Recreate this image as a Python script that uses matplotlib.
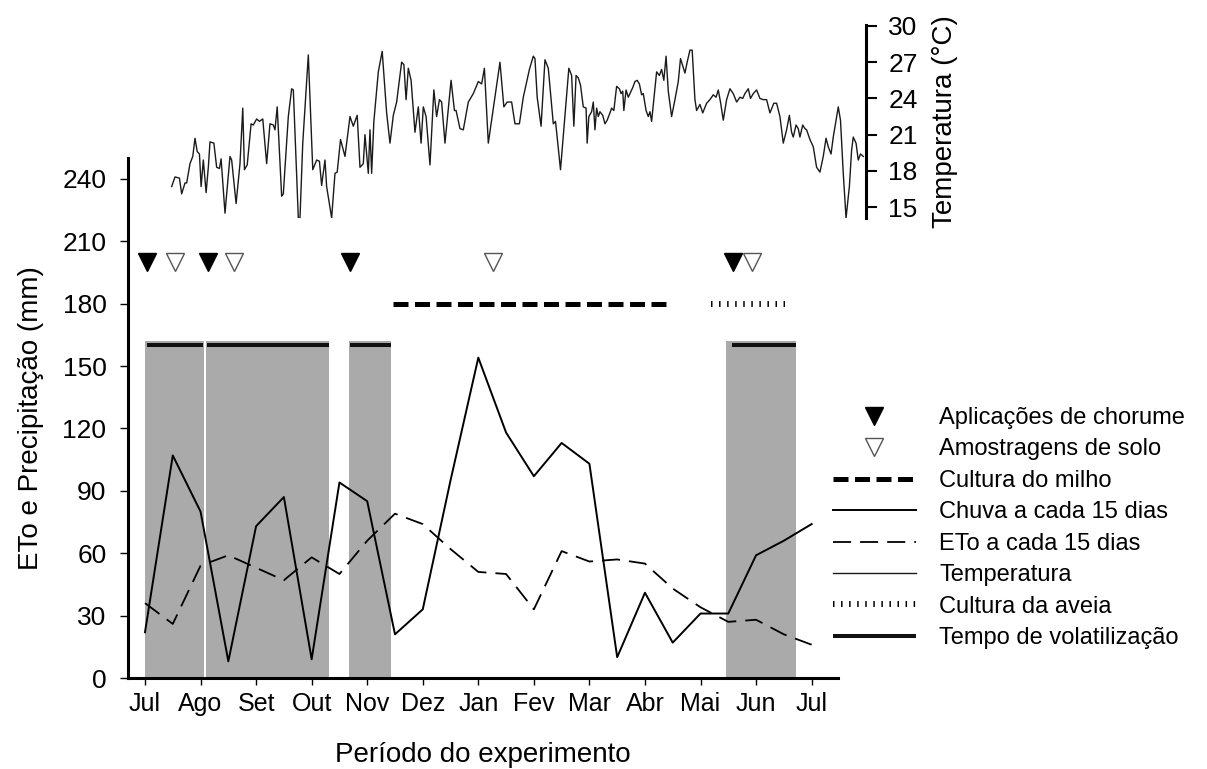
import numpy as np
import matplotlib.pyplot as plt

plt.rcParams['font.family'] = ['Liberation Sans', 'DejaVu Sans']
plt.rcParams['font.size'] = 17

# eixo x em meses desde julho (0 = Jul, 12 = Jul do ano seguinte)
meses = ['Jul', 'Ago', 'Set', 'Out', 'Nov', 'Dez', 'Jan', 'Fev', 'Mar', 'Abr', 'Mai', 'Jun', 'Jul']

# totais quinzenais (mm)
quinzenas = [0.0, 0.5, 1.0, 1.5, 2.0, 2.5, 3.0, 3.5, 4.0, 4.5, 5.0, 5.5, 6.0,
             6.5, 7.0, 7.5, 8.0, 8.5, 9.0, 9.5, 10.0, 10.5, 11.0, 11.5, 12.0]
chuva = [22, 107, 80, 8, 73, 87, 9, 94, 85, 21, 33, 95, 154,
         118, 97, 113, 103, 10, 41, 17, 31, 31, 59, 66, 74]
eto = [36, 26, 54, 59, 53, 47, 58, 50, 66, 79, 74, 62, 51,
       50, 33, 61, 56, 57, 55, 43, 34, 27, 28, 21, 16]

# temperatura media diaria (C)
temp_mes = [0.48, 0.54, 0.62, 0.66, 0.72, 0.75, 0.81, 0.86, 0.90, 0.94,
            0.98, 1.01, 1.05, 1.10, 1.14, 1.17, 1.24, 1.29, 1.34, 1.37,
            1.44, 1.53, 1.56, 1.64, 1.71, 1.76, 1.79, 1.84, 1.91, 1.95,
            2.01, 2.06, 2.12, 2.19, 2.25, 2.31, 2.34, 2.38, 2.46, 2.49,
            2.58, 2.64, 2.67, 2.76, 2.79, 2.84, 2.94, 3.02, 3.09, 3.14,
            3.18, 3.24, 3.27, 3.36, 3.42, 3.46, 3.52, 3.60, 3.69, 3.75,
            3.82, 3.87, 3.93, 3.96, 4.02, 4.05, 4.08, 4.12, 4.20, 4.27,
            4.35, 4.41, 4.47, 4.53, 4.62, 4.66, 4.70, 4.74, 4.79, 4.86,
            4.92, 4.97, 5.01, 5.06, 5.13, 5.20, 5.25, 5.30, 5.34, 5.40,
            5.51, 5.57, 5.60, 5.67, 5.73, 5.82, 5.91, 6.00, 6.06, 6.11,
            6.18, 6.39, 6.46, 6.52, 6.60, 6.66, 6.74, 6.81, 6.92, 6.99,
            7.02, 7.06, 7.13, 7.20, 7.26, 7.35, 7.39, 7.48, 7.63, 7.68,
            7.72, 7.76, 7.80, 7.84, 7.89, 7.94, 7.96, 7.99, 8.04, 8.07,
            8.10, 8.13, 8.16, 8.19, 8.24, 8.28, 8.32, 8.37, 8.40, 8.44,
            8.49, 8.54, 8.57, 8.60, 8.62, 8.66, 8.70, 8.73, 8.78, 8.82,
            8.86, 8.90, 8.94, 8.97, 9.02, 9.06, 9.09, 9.12, 9.16, 9.21,
            9.26, 9.30, 9.34, 9.38, 9.42, 9.48, 9.54, 9.60, 9.64, 9.72,
            9.76, 9.81, 9.85, 9.90, 9.93, 9.99, 10.04, 10.11, 10.17, 10.23,
            10.28, 10.32, 10.36, 10.41, 10.47, 10.53, 10.59, 10.65, 10.71, 10.76,
            10.80, 10.86, 10.90, 10.95, 11.01, 11.07, 11.13, 11.19, 11.25, 11.32,
            11.37, 11.43, 11.49, 11.55, 11.60, 11.64, 11.67, 11.72, 11.76, 11.79,
            11.84, 11.88, 11.91, 11.97, 12.03, 12.09, 12.15, 12.21, 12.26, 12.30,
            12.35, 12.39, 12.48, 12.52, 12.57, 12.62, 12.68, 12.72, 12.75, 12.80,
            12.84, 12.88, 12.93]
temp_c = [16.7, 17.5, 17.4, 16.1, 17.0, 17.0, 18.6, 19.2, 20.7, 19.6,
          19.4, 16.7, 18.9, 16.2, 18.3, 20.4, 20.3, 18.3, 18.2, 19.0,
          14.5, 19.2, 18.9, 15.3, 18.6, 23.2, 18.1, 18.5, 21.9, 21.8,
          22.3, 22.1, 22.3, 18.6, 21.9, 21.8, 21.4, 23.3, 15.9, 16.1,
          22.5, 24.8, 24.7, 14.1, 14.1, 20.3, 27.6, 18.1, 18.9, 18.8,
          16.8, 18.9, 16.7, 14.1, 17.8, 17.9, 20.6, 19.2, 22.5, 21.7,
          22.6, 18.3, 18.6, 21.0, 17.8, 21.4, 17.8, 22.1, 26.2, 27.9,
          22.8, 20.3, 22.6, 23.7, 27.0, 26.8, 23.9, 26.5, 25.5, 21.2,
          23.3, 20.3, 23.3, 22.5, 18.5, 24.7, 22.5, 23.9, 23.7, 20.3,
          25.5, 23.0, 23.0, 21.5, 21.4, 23.7, 24.4, 25.4, 25.2, 26.5,
          20.3, 27.0, 23.3, 23.7, 23.7, 21.9, 21.9, 24.1, 26.4, 27.5,
          27.3, 24.1, 21.7, 27.2, 26.5, 21.9, 22.1, 18.1, 26.5, 25.9,
          21.7, 25.9, 25.7, 25.1, 23.3, 23.2, 20.3, 22.5, 22.9, 23.7,
          21.4, 23.2, 22.5, 22.9, 22.6, 21.9, 22.2, 22.8, 23.2, 23.0,
          25.0, 24.8, 24.4, 24.6, 23.0, 24.7, 24.1, 24.4, 24.9, 25.4,
          25.5, 25.2, 24.3, 24.4, 23.0, 22.5, 22.9, 22.1, 23.9, 26.2,
          25.9, 26.4, 25.5, 27.5, 24.6, 22.5, 23.9, 25.4, 27.3, 26.1,
          27.0, 28.0, 28.0, 23.9, 23.0, 23.5, 22.8, 23.6, 23.9, 24.3,
          24.1, 24.7, 23.7, 22.2, 23.9, 24.8, 24.4, 23.7, 24.1, 24.0,
          24.4, 24.8, 24.0, 24.4, 24.7, 24.0, 23.9, 23.9, 22.8, 23.6,
          23.6, 22.5, 20.3, 21.4, 22.6, 21.2, 20.8, 21.8, 21.5, 20.8,
          21.8, 21.5, 21.4, 20.6, 20.0, 18.3, 17.9, 19.2, 20.7, 20.0,
          19.4, 20.8, 23.3, 22.2, 17.8, 14.1, 16.7, 19.7, 20.8, 20.3,
          18.9, 19.4, 19.2]

# eventos do experimento
aplicacoes = [0.04, 1.13, 3.69, 10.58]
amostragens = [0.54, 1.60, 6.26, 10.93]
nivel_eventos = 200
milho_inicio, milho_fim = 4.46, 9.41
aveia_inicio, aveia_fim = 10.19, 11.52
nivel_culturas = 180
volat_inicio = [0.04, 1.12, 3.69, 10.56]
volat_fim = [1.04, 3.31, 4.43, 11.72]
nivel_volat = 160
sombra_inicio = [0.0, 1.10, 3.67, 10.45]
sombra_fim = [1.06, 3.31, 4.43, 11.72]
sombra_altura = 162

W, H = 1207, 769
fig = plt.figure(figsize=(W / 100, H / 100), dpi=100)

# painel principal
x0, x1 = 128, 838
y0, y1 = 678, 158
ax = fig.add_axes([x0 / W, 1 - y0 / H, (x1 - x0) / W, (y0 - y1) / H])
ax.set_xlim(-0.306, 12.475)
ax.set_ylim(0, 250)

larguras = np.array(sombra_fim) - np.array(sombra_inicio)
ax.bar(sombra_inicio, sombra_altura, width=larguras, align='edge',
       color='#aaaaaa', edgecolor='none', zorder=1)
h_volat = ax.hlines([nivel_volat] * len(volat_inicio), volat_inicio, volat_fim,
                    color='#111111', lw=2.9, zorder=3,
                    label='Tempo de volatilização')

h_chuva, = ax.plot(quinzenas, chuva, color='black', lw=1.4, zorder=4,
                   label='Chuva a cada 15 dias')
h_eto, = ax.plot(quinzenas, eto, color='black', lw=1.3, dashes=(10, 5),
                 zorder=4, label='ETo a cada 15 dias')

h_milho, = ax.plot([milho_inicio, milho_fim], [nivel_culturas] * 2,
                   color='black', lw=3.6, dashes=(3, 1.3),
                   label='Cultura do milho')
h_aveia, = ax.plot([aveia_inicio, aveia_fim], [nivel_culturas] * 2,
                   color='black', lw=4.3, dashes=(0.25, 1.1),
                   label='Cultura da aveia')

h_apl, = ax.plot(aplicacoes, [nivel_eventos] * len(aplicacoes), 'v',
                 color='black', ms=13, zorder=5,
                 label='Aplicações de chorume')
h_amo, = ax.plot(amostragens, [nivel_eventos] * len(amostragens), 'v',
                 mfc='white', mec='#555555', mew=1.0, ms=13, zorder=5,
                 label='Amostragens de solo')

ax.spines[['top', 'right']].set_visible(False)
ax.spines[['left', 'bottom']].set_linewidth(2.2)
ax.set_yticks(range(0, 241, 30))
ax.set_xticks(range(len(meses)))
ax.set_xticklabels(meses)
ax.tick_params(axis='y', direction='out', length=6, width=1, pad=9.5,
               labelsize=19)
ax.tick_params(axis='x', direction='out', length=5, width=1, pad=5,
               labelsize=18)
ax.set_ylabel('ETo e Precipitação (mm)', fontsize=20, labelpad=13)
ax.set_xlabel('Período do experimento', fontsize=20, labelpad=19)

# painel da temperatura
tx1 = 866
ty0, ty1 = 218, 25
tax = fig.add_axes([x0 / W, 1 - ty0 / H, (tx1 - x0) / W, (ty0 - ty1) / H])
tax.patch.set_visible(False)
tax.set_xlim(-0.306, -0.306 + (tx1 - x0) / 55.55)
tax.set_ylim(14.1, 30.08)
h_temp, = tax.plot(temp_mes, temp_c, color='#1a1a1a', lw=1.0,
                   label='Temperatura')
tax.spines[['top', 'left', 'bottom']].set_visible(False)
tax.spines['right'].set_linewidth(2.2)
tax.set_xticks([])
tax.yaxis.tick_right()
tax.yaxis.set_label_position('right')
tax.set_yticks(range(15, 31, 3))
tax.tick_params(axis='y', direction='out', length=8, width=1.5, pad=8,
                labelsize=19)
tax.set_ylabel('Temperatura (°C)', fontsize=20, labelpad=10)

handles = [h_apl, h_amo, h_milho, h_chuva, h_eto, h_temp, h_aveia, h_volat]
fig.legend(handles=handles, labels=[h.get_label() for h in handles],
           loc='upper left', bbox_to_anchor=(833 / W, 1 - 407 / H),
           frameon=False, fontsize=17, handlelength=3.5, handletextpad=1.0,
           labelspacing=0.4, borderpad=0, borderaxespad=0)

fig.savefig('out.png', dpi=100)
